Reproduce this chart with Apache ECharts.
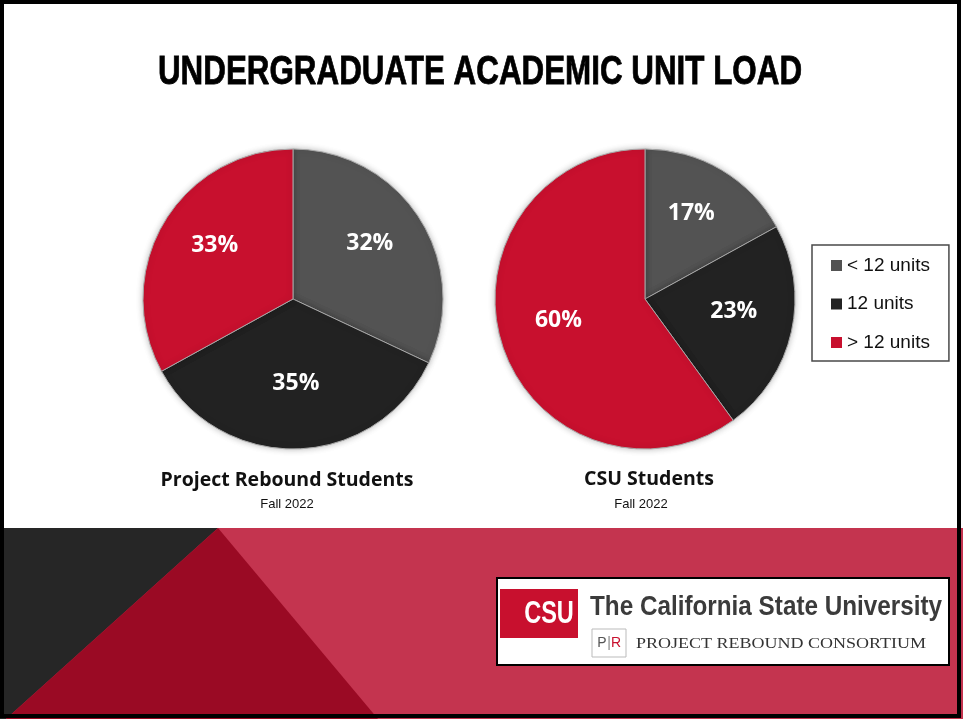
<!DOCTYPE html>
<html>
<head>
<meta charset="utf-8">
<script src="https://cdn.jsdelivr.net/npm/echarts@6/dist/echarts.min.js"></script>
<style>
  html, body { margin: 0; padding: 0; background: #ffffff; }
  #chart { width: 963px; height: 719px; }
</style>
</head>
<body>
<div id="chart"></div>
<script>
// Unit-load categories and the share of students in each (percent)
const categories = ['< 12 units', '12 units', '> 12 units'];
const reboundShare = [32, 35, 33];
const csuShare = [17, 23, 60];
const groupNames = ['Project Rebound Students', 'CSU Students'];
const termLabel = 'Fall 2022';
const chartTitle = 'UNDERGRADUATE ACADEMIC UNIT LOAD';

const sliceColors = ['#535353', '#222222', '#c8102e'];
const labelFont = '"Open Sans", "DejaVu Sans", sans-serif';
const boldSans = '"Liberation Sans", Arial, sans-serif';

function toData(values) {
  return categories.map((name, i) => ({ name, value: values[i], itemStyle: { color: sliceColors[i] } }));
}

// Each pie: a filled disc plus a transparent ring carrying the value labels
function pieSeries(values, cx) {
  const data = toData(values);
  return [
    {
      type: 'pie',
      center: [cx, 299],
      radius: [0, 150],
      startAngle: 90,
      clockwise: true,
      silent: true,
      data,
      label: { show: false },
      labelLine: { show: false },
      itemStyle: {
        borderColor: '#a8a8a8',
        borderWidth: 1,
        shadowBlur: 6,
        shadowColor: 'rgba(0,0,0,0.25)'
      },
      emphasis: { disabled: true }
    },
    {
      type: 'pie',
      center: [cx, 299],
      radius: [26, 150],
      startAngle: 90,
      clockwise: true,
      silent: true,
      legendHoverLink: false,
      data: data.map(d => ({ name: d.name, value: d.value })),
      itemStyle: { color: 'rgba(0,0,0,0)', borderWidth: 0 },
      label: {
        show: true,
        position: 'inside',
        formatter: '{c}%',
        color: '#ffffff',
        fontSize: 23,
        fontWeight: 'bold',
        fontFamily: labelFont,
        offset: [0, -7]
      },
      labelLine: { show: false },
      emphasis: { disabled: true }
    }
  ];
}

// Text helper; sx squeezes the glyphs horizontally around the anchor point
function text(x, y, str, font, fill, align, sx, heavy) {
  const style = { text: str, font, fill, textAlign: align || 'center', textVerticalAlign: 'middle' };
  if (heavy) { style.stroke = fill; style.lineWidth = heavy; }
  return { type: 'text', x, y, z: 10, scaleX: sx || 1, style };
}

const chart = echarts.init(document.getElementById('chart'), null, { renderer: 'canvas' });

chart.setOption({
  backgroundColor: '#ffffff',
  animation: false,
  legend: {
    orient: 'vertical',
    left: 812,
    top: 245,
    itemWidth: 11,
    itemHeight: 11,
    itemGap: 19.5,
    padding: [11, 19, 9, 19],
    borderColor: '#4a4a4a',
    borderWidth: 1.5,
    icon: 'rect',
    selectedMode: false,
    itemStyle: { borderWidth: 0 },
    textStyle: { fontSize: 19, color: '#111111', fontFamily: boldSans },
    data: categories.map((name, i) => ({ name, itemStyle: { color: sliceColors[i], borderWidth: 0 } }))
  },
  series: [...pieSeries(reboundShare, 293), ...pieSeries(csuShare, 645)],
  graphic: [
    // lower decorative band
    { type: 'rect', z: 1, shape: { x: 0, y: 528, width: 963, height: 191 }, style: { fill: '#c4344f' } },
    { type: 'polygon', z: 2, shape: { points: [[0, 528], [218, 528], [6, 719], [0, 719]] }, style: { fill: '#262626' } },
    { type: 'polygon', z: 2, shape: { points: [[218, 528], [378, 719], [6, 719]] }, style: { fill: '#9a0a24' } },
    // logo panel
    { type: 'rect', z: 3, shape: { x: 497, y: 578, width: 452, height: 87 }, style: { fill: '#ffffff', stroke: '#000000', lineWidth: 2 } },
    { type: 'rect', z: 4, shape: { x: 500, y: 589, width: 78, height: 49 }, style: { fill: '#c8102e' } },
    text(549, 614, 'CSU', 'bold 31px ' + boldSans, '#ffffff', 'center', 0.76),
    text(590, 607, 'The California State University', 'bold 28px ' + boldSans, '#3b3b3b', 'left', 0.867),
    { type: 'rect', z: 4, shape: { x: 592, y: 629, width: 34, height: 28 }, style: { fill: '#ffffff', stroke: '#bbbbbb', lineWidth: 1 } },
    text(602, 643, 'P', '14px ' + boldSans, '#555555'),
    text(609, 643, '|', '14px ' + boldSans, '#888888'),
    text(616, 643, 'R', '14px ' + boldSans, '#c8102e'),
    text(636, 644, 'PROJECT REBOUND CONSORTIUM', '15px "Liberation Serif", "DejaVu Serif", serif', '#333333', 'left', 1.2),
    // headings
    text(480, 73, chartTitle, 'bold 41px ' + boldSans, '#000000', 'center', 0.765, 0.8),
    text(287, 480, groupNames[0], 'bold 19.5px ' + labelFont, '#111111'),
    text(287, 504, termLabel, '13px ' + boldSans, '#111111'),
    text(649, 479, groupNames[1], 'bold 19.5px ' + labelFont, '#111111'),
    text(641, 504, termLabel, '13px ' + boldSans, '#111111'),
    // page frame
    { type: 'rect', z: 20, shape: { x: 2, y: 2, width: 957, height: 714 }, style: { fill: 'none', stroke: '#000000', lineWidth: 4 } }
  ]
});
</script>
</body>
</html>
